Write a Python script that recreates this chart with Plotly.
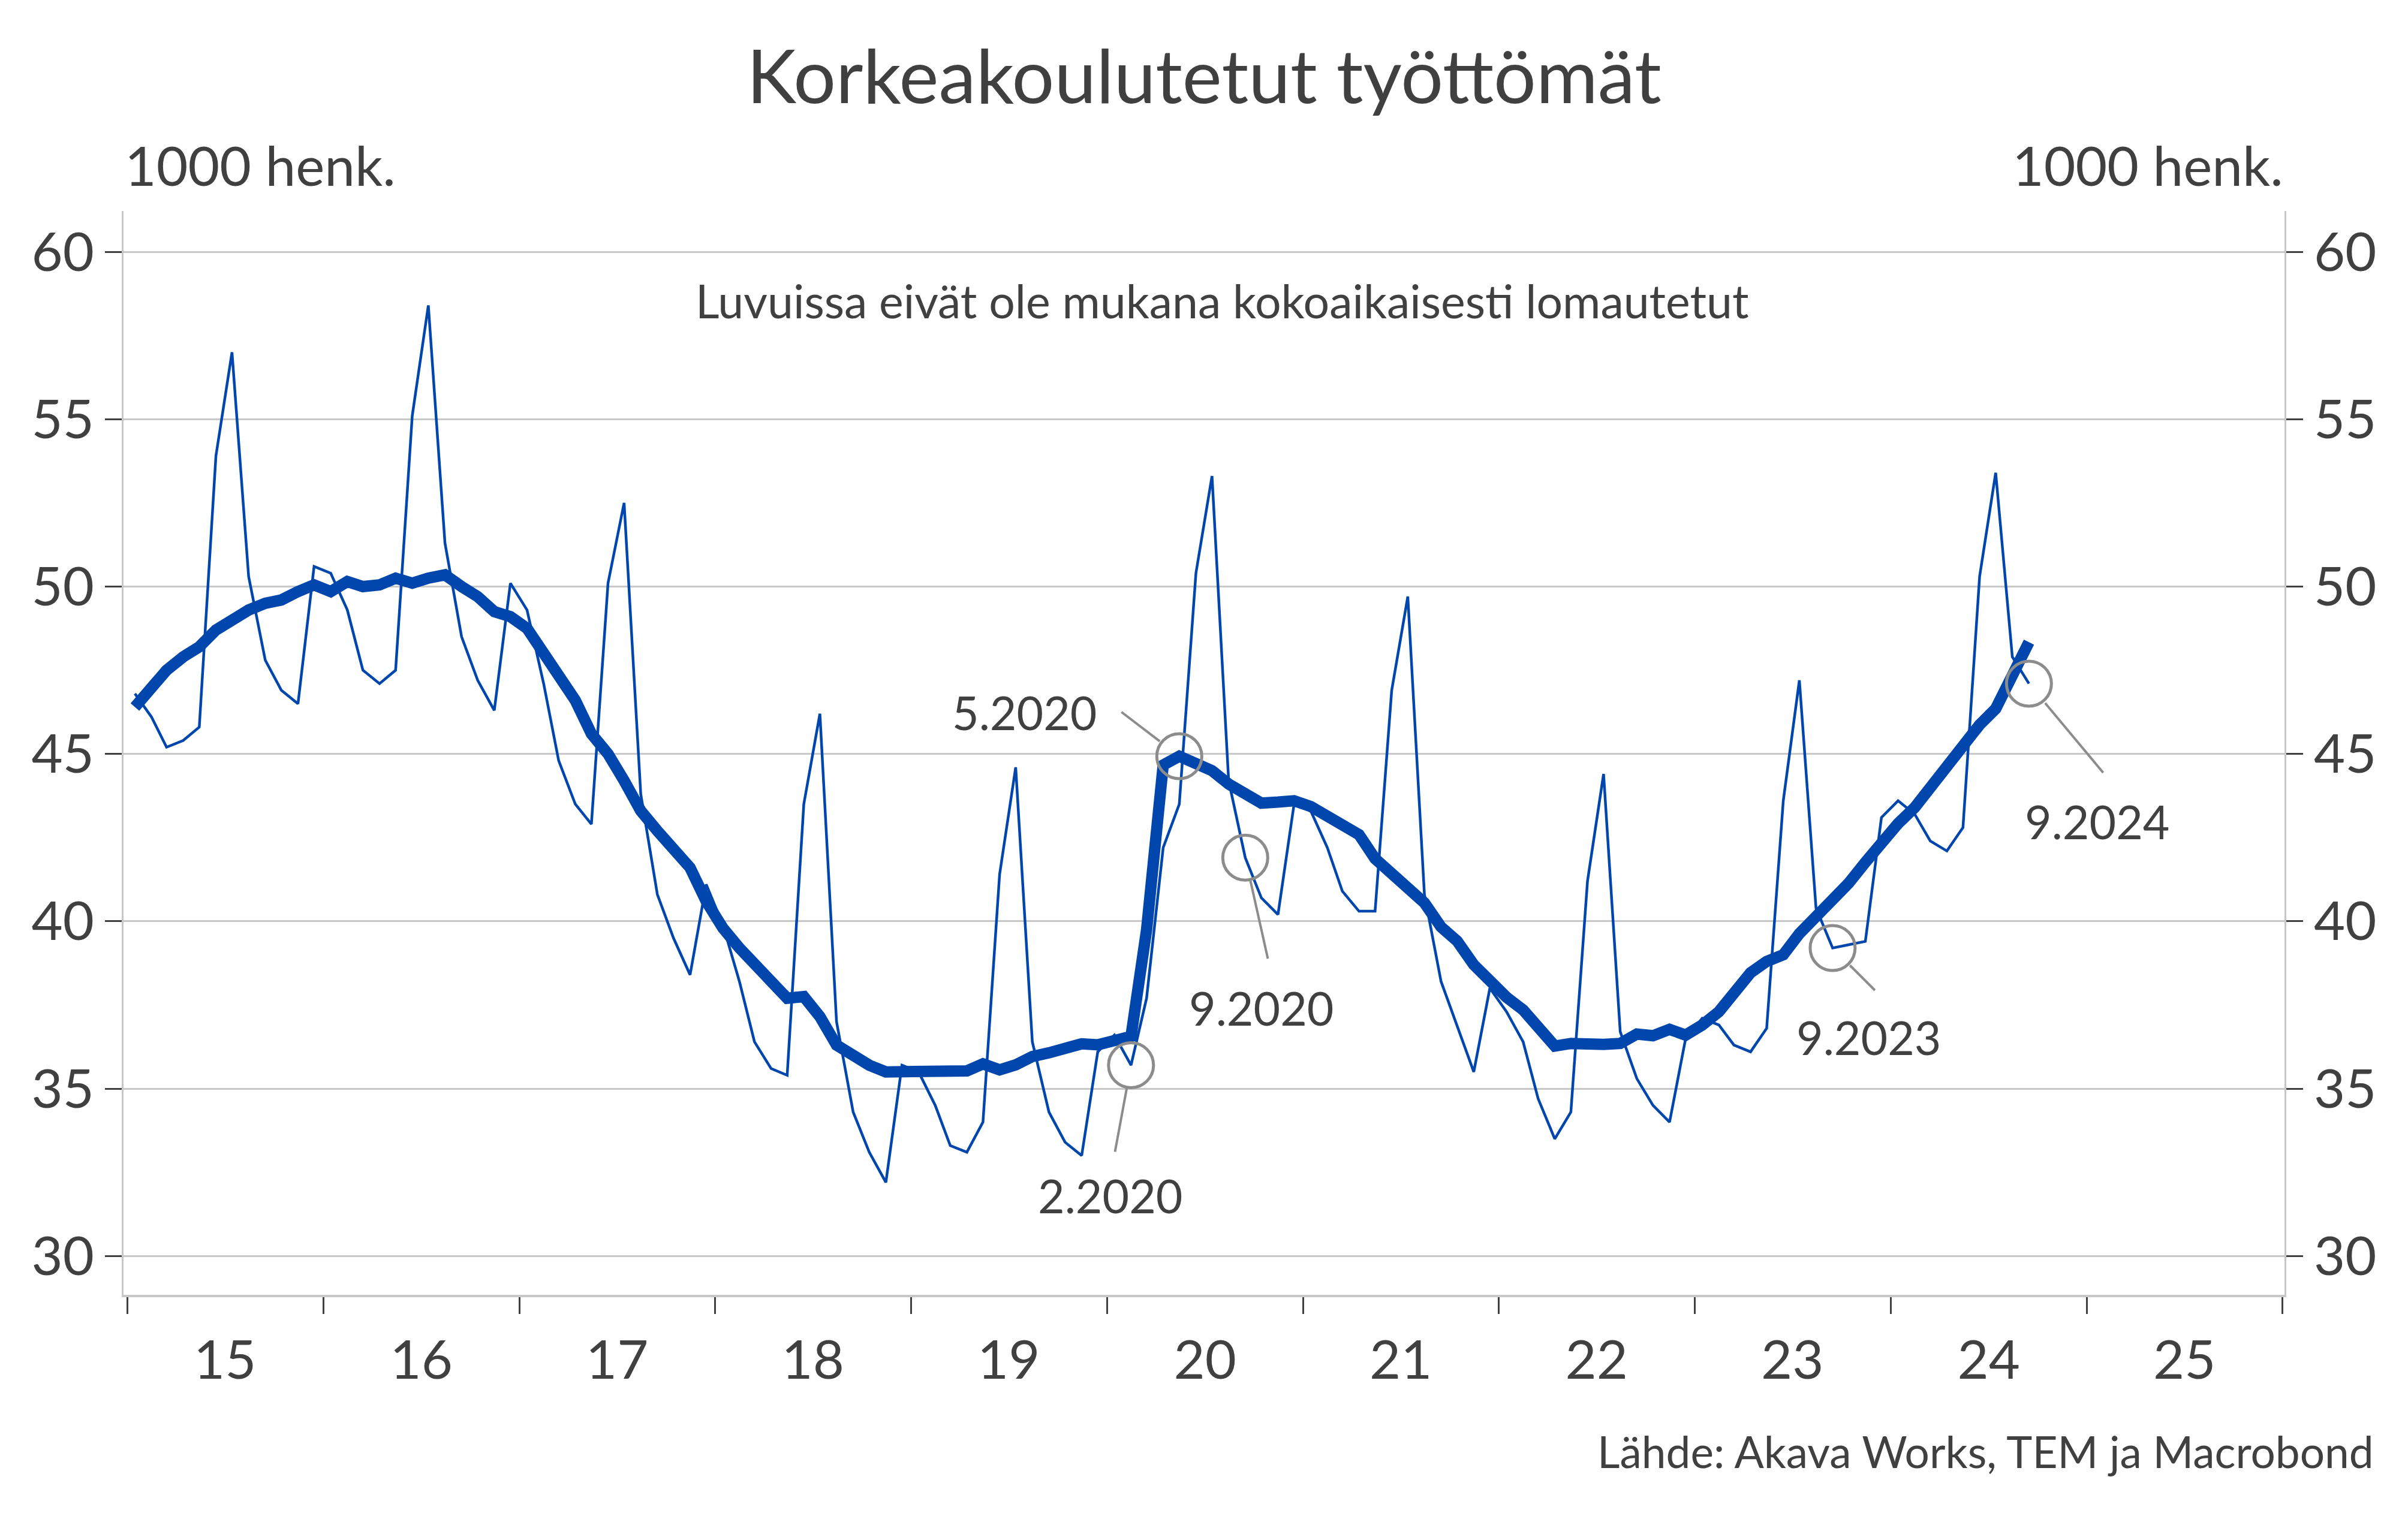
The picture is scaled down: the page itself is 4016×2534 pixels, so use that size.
import plotly.graph_objects as go
import pandas as pd

# Korkeakoulutetut työttömät, 1000 henk., kuukausittain 1/2015 - 9/2024
tyottomat = [
    46.8, 46.1, 45.2, 45.4, 45.8, 53.9, 57.0, 50.3, 47.8, 46.9, 46.5, 50.6,
    50.4, 49.3, 47.5, 47.1, 47.5, 55.1, 58.4, 51.3, 48.5, 47.2, 46.3, 50.1,
    49.3, 47.1, 44.8, 43.5, 42.9, 50.1, 52.5, 43.8, 40.8, 39.5, 38.4, 41.1,
    39.9, 38.2, 36.4, 35.6, 35.4, 43.5, 46.2, 37.0, 34.3, 33.1, 32.2, 35.7,
    35.5, 34.5, 33.3, 33.1, 34.0, 41.4, 44.6, 36.4, 34.3, 33.4, 33.0, 36.1,
    36.6, 35.7, 37.7, 42.2, 43.5, 50.4, 53.3, 44.2, 41.9, 40.7, 40.2, 43.5,
    43.3, 42.2, 40.9, 40.3, 40.3, 46.9, 49.7, 40.8, 38.2, 36.9, 35.5, 38.0,
    37.3, 36.4, 34.7, 33.5, 34.3, 41.2, 44.4, 36.7, 35.3, 34.5, 34.0, 36.5,
    37.1, 36.9, 36.3, 36.1, 36.8, 43.6, 47.2, 40.4, 39.2, 39.3, 39.4, 43.1,
    43.6, 43.2, 42.4, 42.1, 42.8, 50.3, 53.4, 47.9, 47.1,
]

# trendi (kausitasoitettu)
trendi = [
    46.4, 47.0, 47.5, 47.9, 48.2, 48.7, 49.0, 49.3, 49.5, 49.6, 49.85, 50.05,
    49.85, 50.15, 50.0, 50.05, 50.25, 50.1, 50.25, 50.35, 50.0, 49.7, 49.25, 49.1,
    48.75, 48.0, 47.3, 46.6, 45.6, 45.0, 44.2, 43.3, 42.7, 42.2, 41.6, 40.6,
    39.8, 39.2, 38.7, 38.25, 37.7, 37.75, 37.15, 36.3, 36.0, 35.7, 35.5, 35.5,
    35.55, 35.53, 35.5, 35.53, 35.74, 35.56, 35.71, 35.96, 36.07, 36.17, 36.34, 36.31,
    36.46, 36.56, 39.74, 44.67, 44.93, 44.74, 44.5, 44.1, 43.84, 43.53, 43.56, 43.6,
    43.43, 43.13, 42.8, 42.59, 41.87, 41.45, 41.03, 40.55, 39.83, 39.41, 38.7, 38.21,
    37.73, 37.35, 36.87, 36.27, 36.35, 36.32, 36.32, 36.35, 36.63, 36.58, 36.77, 36.6,
    36.9, 37.3, 37.85, 38.46, 38.8, 39.0, 39.63, 40.1, 40.6, 41.14, 41.76, 42.37,
    42.92, 43.4, 44.02, 44.57, 45.19, 45.87, 46.35, 47.3, 48.34,
]

vuodet = list(range(2015, 2026))
vuosi_tekstit = ["15", "16", "17", "18", "19", "20", "21", "22", "23", "24", "25"]

# merkityt kuukaudet ja mihin sarjaan ympyrä osuu
merkinnat = ["2.2020", "5.2020", "9.2020", "9.2023", "9.2024"]
merkinta_sarja = ["kk", "trendi", "kk", "kk", "kk"]

kuukaudet = pd.date_range("2015-01-01", periods=len(tyottomat), freq="MS") + pd.Timedelta(days=14)

SININEN = "#0046AD"
HARMAA = "#8c8c8c"
TEKSTI = "#404040"
VIIVA = "#c8c8c8"
FONTTI = "Lato"

fig = go.Figure()

fig.add_trace(go.Scatter(x=kuukaudet, y=tyottomat, mode="lines",
                         line=dict(color=SININEN, width=4.5), hoverinfo="skip"))
fig.add_trace(go.Scatter(x=kuukaudet, y=trendi, mode="lines",
                         line=dict(color=SININEN, width=19), hoverinfo="skip"))

# ympyrät merkittyjen kuukausien kohdalle
mx, my = [], []
for m, s in zip(merkinnat, merkinta_sarja):
    kk, v = m.split(".")
    i = (int(v) - 2015) * 12 + int(kk) - 1
    mx.append(kuukaudet[i])
    my.append(trendi[i] if s == "trendi" else tyottomat[i])

fig.add_trace(go.Scatter(x=mx, y=my, mode="markers", yaxis="y2",
                         marker=dict(symbol="circle-open", size=75, color=HARMAA,
                                     line=dict(width=5, color=HARMAA)),
                         hoverinfo="skip"))

# viiva (ax, ay), standoff, teksti (xshift, yshift)
tyylit = {
    "2.2020": (-27, 146, 39, -35, -217),
    "5.2020": (-98, -75, 41, -258, 74),
    "9.2020": (38, 170, 40, 27, -250),
    "9.2023": (72, 72, 41, 60, -148),
    "9.2024": (125, 150, 42, 114, -230),
}

for m, x, y in zip(merkinnat, mx, my):
    ax, ay, so, xs, ys = tyylit[m]
    fig.add_annotation(x=x, y=y, xref="x", yref="y", text="", showarrow=True,
                       arrowhead=0, arrowwidth=4, arrowcolor=HARMAA,
                       ax=ax, ay=ay, standoff=so)
    fig.add_annotation(x=x, y=y, xref="x", yref="y", text=m, showarrow=False,
                       xshift=xs, yshift=ys, font=dict(size=77, color=TEKSTI, family=FONTTI))

fig.add_annotation(text="1000 henk.", xref="paper", yref="paper", x=0.0, y=1.043,
                   xanchor="left", yanchor="middle", showarrow=False,
                   font=dict(size=91, color=TEKSTI, family=FONTTI))
fig.add_annotation(text="1000 henk.", xref="paper", yref="paper", x=1.0, y=1.043,
                   xanchor="right", yanchor="middle", showarrow=False,
                   font=dict(size=91, color=TEKSTI, family=FONTTI))
fig.add_annotation(text="Luvuissa eivät ole mukana kokoaikaisesti lomautetut",
                   xref="paper", yref="paper", x=0.5085, y=0.9175,
                   xanchor="center", yanchor="middle", showarrow=False,
                   font=dict(size=77, color=TEKSTI, family=FONTTI))
fig.add_annotation(text="Lähde: Akava Works, TEM ja Macrobond",
                   xref="paper", yref="paper", x=1.0418, y=-0.1445,
                   xanchor="right", yanchor="middle", showarrow=False,
                   font=dict(size=73, color=TEKSTI, family=FONTTI))

yrange = [28.84, 61.22]
ytick = dict(tickmode="array", tickvals=[30, 35, 40, 45, 50, 55, 60],
             ticks="outside", ticklen=28, tickwidth=3, tickcolor=TEKSTI,
             tickfont=dict(size=90, color=TEKSTI, family=FONTTI),
             ticklabelstandoff=0, range=yrange, zeroline=False, automargin=False,
             showline=True, linecolor=VIIVA, linewidth=3)

# sivun oletusreunus (8 px) kompensoitu marginaaleissa
fig.update_layout(
    width=4016, height=2534,
    margin=dict(l=198, r=214, t=344, b=382),
    paper_bgcolor="white", plot_bgcolor="white",
    showlegend=False,
    title=dict(text="Korkeakoulutetut työttömät", x=0.5, xref="paper",
               y=1 - 120 / 2534, yref="container", xanchor="center", yanchor="middle",
               font=dict(size=125, color=TEKSTI, family=FONTTI)),
    xaxis=dict(type="date", range=["2014-12-24 18:00", "2026-01-04 09:00"],
               tickmode="array",
               tickvals=[pd.Timestamp(f"{v}-07-02") for v in vuodet],
               ticktext=vuosi_tekstit,
               ticks="outside", ticklen=28, tickwidth=3, tickcolor="rgba(0,0,0,0)",
               tickfont=dict(size=90, color=TEKSTI, family=FONTTI),
               ticklabelstandoff=0, automargin=False,
               minor=dict(tickmode="array",
                          tickvals=[pd.Timestamp(f"{v}-01-01") for v in vuodet + [2026]],
                          ticks="outside", ticklen=28, tickwidth=3, tickcolor=TEKSTI,
                          showgrid=False),
               showgrid=False, zeroline=False,
               showline=True, linecolor=VIIVA, linewidth=4),
    yaxis=dict(**ytick, showgrid=True, gridcolor=VIIVA, gridwidth=3, side="left"),
    yaxis2=dict(**ytick, showgrid=False, overlaying="y", side="right"),
)

fig.write_html("out.html")
